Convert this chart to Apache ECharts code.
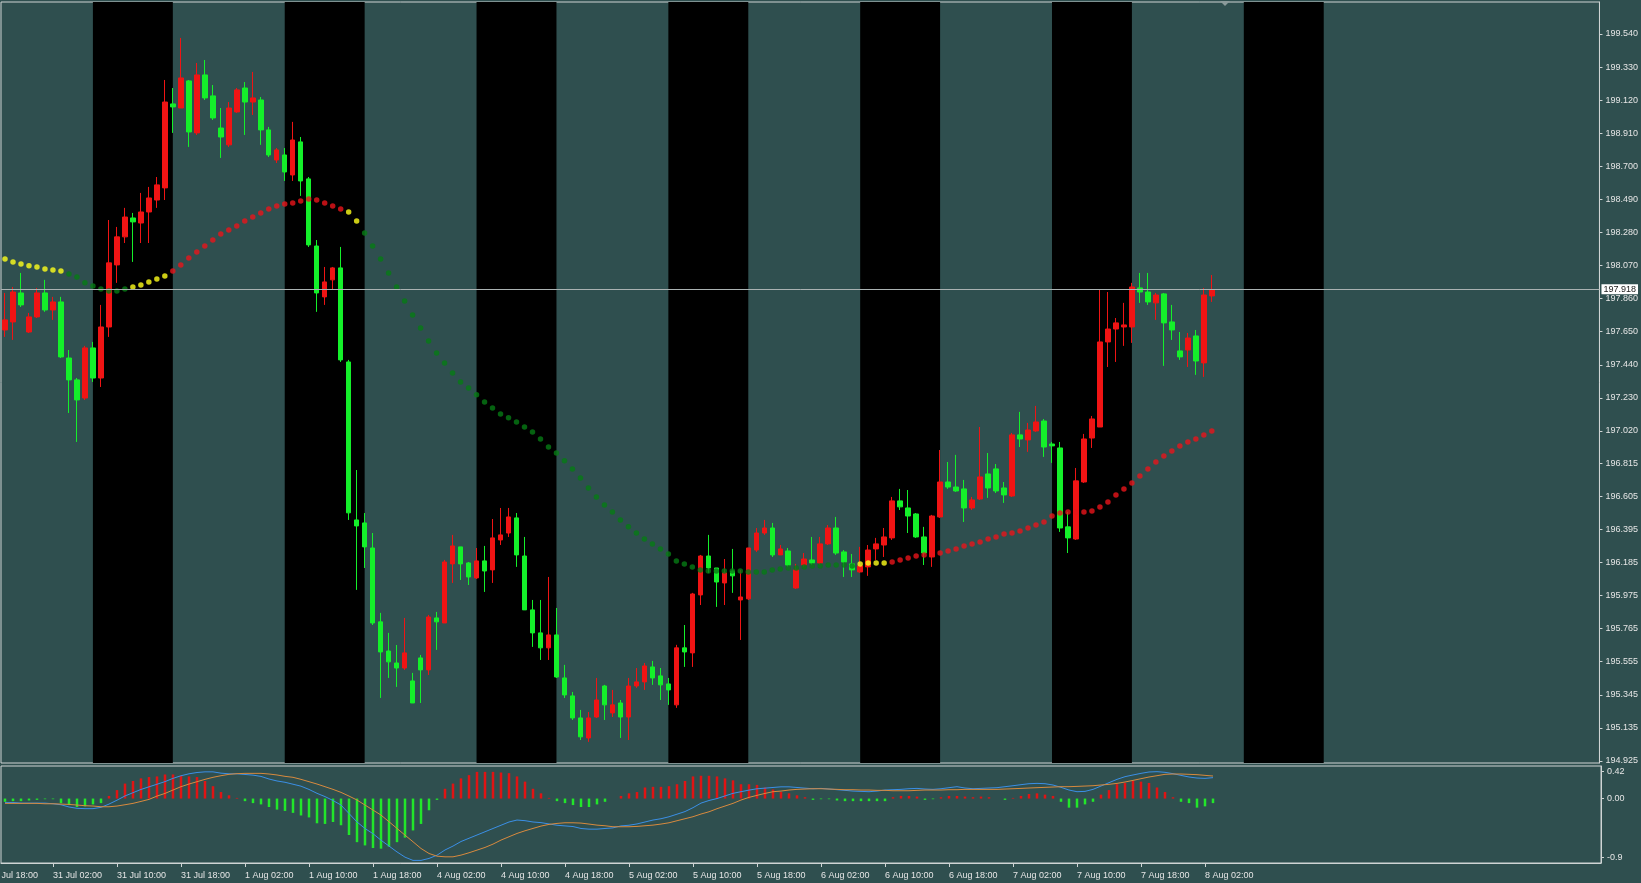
<!DOCTYPE html>
<html><head><meta charset="utf-8">
<script src="https://cdn.jsdelivr.net/npm/echarts@6/dist/echarts.min.js"></script>
<style>html,body{margin:0;padding:0;background:#2f4f4f;overflow:hidden}#c{width:1641px;height:883px}</style>
</head><body><div id="c"></div>
<script>
// ---- categories (hourly bars, weekend skipped) ----
const tradingDays = ['30 Jul','31 Jul','1 Aug','4 Aug','5 Aug','6 Aug','7 Aug','8 Aug','11 Aug','12 Aug'];
const firstCandle = '30 Jul 20:00';
const hiddenLeftLabel = '30 Jul 18:00';   // label of the bar just left of the window
const categoryCount = 200;

// ---- candles (30 Jul 20:00 .. 8 Aug 03:00) ----
const opens = [197.661,197.712,197.896,197.648,197.744,197.896,197.788,197.839,197.483,197.344,197.229,197.547,197.356,197.680,198.074,198.252,198.372,198.340,198.410,198.486,198.563,199.096,199.070,199.242,198.912,199.280,199.147,198.943,198.836,199.045,199.197,199.108,199.121,198.931,198.740,198.772,198.645,198.855,198.620,198.194,197.871,197.979,198.055,197.458,196.455,196.436,196.277,195.808,195.623,195.547,195.515,195.433,195.579,195.503,195.833,195.801,196.176,196.284,196.182,196.087,196.195,196.138,196.328,196.372,196.468,196.226,195.884,195.738,195.643,195.725,195.452,195.338,195.198,195.071,195.204,195.401,195.230,195.293,195.204,195.401,195.427,195.522,195.465,195.414,195.281,195.643,195.611,195.979,196.226,196.150,196.055,196.131,195.947,195.954,196.264,196.372,196.404,196.233,196.258,196.023,196.169,196.201,196.182,196.303,196.404,196.252,196.176,196.125,196.157,196.271,196.296,196.341,196.576,196.531,196.493,196.347,196.220,196.474,196.696,196.664,196.652,196.531,196.588,196.747,196.779,196.658,196.607,196.995,196.963,197.020,197.083,196.937,196.912,196.411,196.334,196.696,196.975,197.045,197.585,197.667,197.680,197.680,197.928,197.902,197.833,197.890,197.712,197.528,197.534,197.623,197.452,197.877];
const closes = [197.725,197.902,197.820,197.744,197.896,197.788,197.839,197.490,197.344,197.217,197.547,197.356,197.680,198.087,198.252,198.378,198.347,198.410,198.499,198.582,199.108,199.077,199.261,198.918,199.280,199.134,199.007,198.886,199.070,199.185,199.108,199.134,198.931,198.772,198.804,198.664,198.867,198.607,198.201,197.896,197.966,198.055,197.471,196.500,196.417,196.284,195.801,195.617,195.554,195.515,195.611,195.293,195.503,195.839,195.808,196.188,196.290,196.176,196.093,196.195,196.131,196.341,196.360,196.474,196.233,195.884,195.738,195.643,195.725,195.458,195.344,195.198,195.078,195.198,195.312,195.281,195.281,195.204,195.401,195.427,195.528,195.452,195.408,195.376,195.643,195.617,195.985,196.226,196.150,196.061,196.119,196.100,195.966,196.277,196.372,196.404,196.233,196.271,196.169,196.138,196.207,196.182,196.303,196.404,196.245,196.188,196.138,196.163,196.264,196.303,196.347,196.576,196.538,196.480,196.347,196.245,196.480,196.696,196.664,196.639,196.531,196.582,196.728,196.658,196.639,196.614,196.995,196.969,197.026,197.077,196.918,196.925,196.404,196.341,196.703,196.969,197.096,197.585,197.667,197.706,197.693,197.934,197.902,197.839,197.883,197.706,197.661,197.490,197.610,197.464,197.883,197.918];
const lows = [197.617,197.598,197.807,197.642,197.737,197.776,197.725,197.483,197.134,196.950,197.217,197.331,197.299,197.617,197.960,198.213,198.093,198.213,198.213,198.436,198.486,198.912,199.070,198.823,198.899,199.121,198.994,198.753,198.823,199.039,198.899,199.026,198.836,198.759,198.721,198.607,198.607,198.512,198.188,197.776,197.820,197.915,197.458,196.455,196.011,196.150,195.788,195.325,195.452,195.395,195.503,195.293,195.293,195.471,195.630,195.801,196.055,196.074,196.042,196.080,195.998,196.055,196.296,196.347,196.157,195.884,195.649,195.566,195.566,195.452,195.325,195.185,195.058,195.046,195.198,195.185,195.204,195.071,195.058,195.389,195.376,195.408,195.312,195.281,195.262,195.522,195.522,195.915,196.119,195.903,195.915,195.992,195.693,195.947,196.252,196.360,196.220,196.233,196.157,196.017,196.157,196.169,196.169,196.296,196.233,196.093,196.093,196.119,196.100,196.201,196.220,196.328,196.518,196.372,196.341,196.169,196.157,196.468,196.652,196.633,196.442,196.518,196.582,196.595,196.626,196.563,196.601,196.918,196.887,197.014,196.855,196.817,196.379,196.245,196.328,196.690,196.912,197.045,197.426,197.458,197.560,197.579,197.833,197.820,197.725,197.433,197.598,197.471,197.426,197.376,197.363,197.839];
const highs = [197.896,197.934,198.023,197.769,197.928,197.979,197.871,197.871,197.534,197.356,197.560,197.585,197.820,198.359,198.315,198.436,198.404,198.531,198.569,198.632,199.248,199.197,199.515,199.248,199.356,199.375,199.216,199.070,199.108,199.197,199.235,199.299,199.140,198.950,198.816,198.816,198.982,198.886,198.632,198.232,198.061,198.061,198.188,197.471,196.772,196.499,196.372,195.865,195.738,195.661,195.833,195.484,195.598,195.852,195.871,196.201,196.360,196.284,196.188,196.277,196.290,196.461,196.531,196.531,196.499,196.347,195.947,195.947,196.093,195.896,195.535,195.363,195.249,195.236,195.452,195.408,195.376,195.312,195.452,195.515,195.547,195.560,195.515,195.452,195.662,195.788,195.992,196.233,196.360,196.150,196.207,196.271,196.138,196.277,196.404,196.455,196.436,196.296,196.277,196.176,196.245,196.347,196.347,196.423,196.474,196.264,196.239,196.284,196.296,196.341,196.404,196.601,196.652,196.645,196.499,196.411,196.487,196.899,196.823,196.868,196.709,196.601,197.045,196.880,196.810,196.696,197.007,197.141,197.071,197.179,197.096,196.950,196.950,196.506,196.785,197.001,197.115,197.915,197.902,197.737,197.833,197.960,198.023,198.023,197.896,197.896,197.820,197.648,197.642,197.661,197.928,198.010];

// ---- dotted moving average and its trend state ----
const maValues = [198.112,198.093,198.080,198.068,198.061,198.048,198.042,198.036,198.017,197.998,197.960,197.940,197.921,197.909,197.909,197.921,197.934,197.947,197.966,197.985,198.004,198.036,198.074,198.118,198.156,198.194,198.232,198.271,198.296,198.321,198.353,198.378,198.404,198.429,198.448,198.461,198.467,198.480,198.493,198.486,198.467,198.448,198.429,198.410,198.353,198.277,198.194,198.112,198.023,197.934,197.845,197.756,197.673,197.591,197.515,197.452,197.388,197.331,197.293,197.249,197.204,197.166,197.128,197.103,197.077,197.045,197.014,196.969,196.918,196.880,196.830,196.779,196.722,196.658,196.601,196.550,196.506,196.455,196.411,196.372,196.334,196.303,196.271,196.239,196.195,196.176,196.157,196.138,196.131,196.131,196.131,196.131,196.131,196.125,196.125,196.125,196.138,196.144,196.150,196.150,196.157,196.163,196.163,196.169,196.169,196.169,196.163,196.176,196.182,196.182,196.182,196.188,196.201,196.214,196.226,196.233,196.239,196.245,196.258,196.271,196.290,196.303,196.315,196.334,196.347,196.366,196.372,196.385,196.404,196.423,196.442,196.480,196.499,196.506,196.506,196.506,196.512,196.537,196.569,196.614,196.652,196.690,196.734,196.779,196.823,196.861,196.893,196.925,196.950,196.969,196.995,197.020];
const maTrendRuns = [[8,'flat'],[8,'down'],[5,'flat'],[22,'up'],[2,'flat'],[62,'down'],[4,'flat'],[41,'up']];

// ---- MACD panel ----
const macdHist = [-0.05,-0.04,-0.04,-0.03,-0.02,-0.01,-0.01,-0.07,-0.10,-0.13,-0.12,-0.09,-0.07,0.04,0.13,0.23,0.27,0.31,0.33,0.34,0.37,0.37,0.35,0.34,0.33,0.27,0.19,0.10,0.05,0.01,-0.04,-0.07,-0.09,-0.13,-0.17,-0.19,-0.22,-0.26,-0.29,-0.38,-0.39,-0.36,-0.41,-0.56,-0.67,-0.72,-0.76,-0.77,-0.74,-0.67,-0.60,-0.49,-0.39,-0.18,-0.02,0.15,0.23,0.31,0.36,0.41,0.41,0.41,0.40,0.39,0.34,0.26,0.15,0.08,0.01,-0.04,-0.07,-0.10,-0.13,-0.13,-0.09,-0.05,0.00,0.04,0.08,0.10,0.17,0.18,0.18,0.19,0.22,0.27,0.34,0.35,0.35,0.34,0.31,0.28,0.22,0.22,0.21,0.17,0.14,0.10,0.08,0.05,0.02,-0.02,-0.01,-0.01,-0.03,-0.04,-0.04,-0.04,-0.04,-0.04,-0.04,0.02,0.04,0.04,0.03,-0.02,-0.01,0.02,0.04,0.04,0.03,0.02,0.03,0.02,0.00,-0.02,0.01,0.04,0.07,0.08,0.06,0.04,-0.05,-0.14,-0.14,-0.09,-0.05,0.06,0.13,0.22,0.24,0.27,0.26,0.24,0.17,0.10,0.02,-0.05,-0.07,-0.14,-0.12,-0.07];
const macdMain = [-0.06,-0.06,-0.07,-0.07,-0.07,-0.07,-0.08,-0.095,-0.13,-0.15,-0.155,-0.155,-0.135,-0.085,-0.025,0.04,0.09,0.14,0.18,0.22,0.26,0.31,0.35,0.38,0.40,0.41,0.41,0.39,0.38,0.38,0.37,0.36,0.34,0.30,0.27,0.25,0.22,0.19,0.14,0.08,0.03,-0.03,-0.10,-0.23,-0.36,-0.46,-0.54,-0.64,-0.73,-0.82,-0.90,-0.95,-0.95,-0.92,-0.87,-0.79,-0.73,-0.66,-0.61,-0.56,-0.51,-0.46,-0.41,-0.36,-0.33,-0.34,-0.36,-0.37,-0.39,-0.41,-0.42,-0.43,-0.46,-0.47,-0.47,-0.46,-0.45,-0.42,-0.41,-0.39,-0.36,-0.33,-0.31,-0.28,-0.24,-0.20,-0.14,-0.07,-0.03,0.00,0.04,0.08,0.105,0.13,0.15,0.16,0.17,0.18,0.18,0.17,0.16,0.15,0.156,0.146,0.136,0.126,0.115,0.110,0.105,0.115,0.131,0.136,0.141,0.151,0.156,0.146,0.141,0.151,0.167,0.182,0.162,0.151,0.156,0.162,0.167,0.182,0.197,0.213,0.228,0.233,0.228,0.208,0.172,0.131,0.105,0.110,0.141,0.192,0.244,0.295,0.336,0.362,0.387,0.408,0.413,0.403,0.382,0.356,0.331,0.315,0.310,0.321];
const macdSignal = [-0.074,-0.074,-0.074,-0.074,-0.074,-0.08,-0.08,-0.085,-0.09,-0.10,-0.11,-0.115,-0.126,-0.126,-0.115,-0.095,-0.074,-0.044,-0.013,0.038,0.079,0.131,0.182,0.223,0.259,0.295,0.326,0.351,0.372,0.382,0.387,0.387,0.387,0.377,0.362,0.341,0.326,0.295,0.259,0.223,0.182,0.141,0.095,0.038,-0.023,-0.10,-0.177,-0.254,-0.356,-0.459,-0.562,-0.664,-0.767,-0.844,-0.885,-0.895,-0.895,-0.869,-0.833,-0.792,-0.751,-0.70,-0.638,-0.587,-0.536,-0.495,-0.459,-0.423,-0.397,-0.382,-0.372,-0.372,-0.377,-0.392,-0.408,-0.418,-0.433,-0.433,-0.433,-0.428,-0.418,-0.408,-0.392,-0.372,-0.341,-0.31,-0.279,-0.238,-0.203,-0.156,-0.115,-0.074,-0.023,0.018,0.049,0.079,0.105,0.115,0.131,0.141,0.146,0.151,0.151,0.146,0.141,0.136,0.136,0.131,0.131,0.126,0.126,0.12,0.12,0.12,0.126,0.131,0.131,0.131,0.136,0.136,0.141,0.141,0.141,0.141,0.141,0.146,0.151,0.156,0.162,0.167,0.172,0.177,0.182,0.182,0.187,0.192,0.197,0.208,0.218,0.233,0.254,0.279,0.305,0.331,0.351,0.372,0.377,0.377,0.372,0.367,0.356,0.346];

// ---- axis ticks / reference values ----
const priceTicks = [199.540,199.330,199.120,198.910,198.700,198.490,198.280,198.070,197.860,197.650,197.440,197.230,197.020,196.815,196.605,196.395,196.185,195.975,195.765,195.555,195.345,195.135,194.925];
const macdTicks = [0.42, 0, -0.9];
const macdTickLabels = ['0.42', '0.00', '-0.9'];
const bidPrice = 197.918;
const sessions = [['31 Jul 07:00','31 Jul 17:00'],['1 Aug 07:00','1 Aug 17:00'],['4 Aug 07:00','4 Aug 17:00'],['5 Aug 07:00','5 Aug 17:00'],['6 Aug 07:00','6 Aug 17:00'],['7 Aug 07:00','7 Aug 17:00'],['8 Aug 07:00','8 Aug 17:00']];

// ---- build ----
const allTimes = [];
tradingDays.forEach(d => { for (let h = 0; h < 24; h++) allTimes.push(d + ' ' + String(h).padStart(2, '0') + ':00'); });
const start = allTimes.indexOf(firstCandle);
const times = allTimes.slice(start, start + categoryCount);
const labelPhase = times.indexOf('31 Jul 02:00') % 8;
const lastReal = opens.length - 1;
const pad = arr => times.map((t, k) => (k < arr.length ? arr[k] : '-'));

const candleData = times.map((t, k) => (k < opens.length ? [opens[k], closes[k], lows[k], highs[k]] : ['-', '-', '-', '-']));
const trend = [];
maTrendRuns.forEach(([n, s]) => { for (let j = 0; j < n; j++) trend.push(s); });
const trendColor = { flat: '#ffff1a', down: '#067a14', up: '#e8141a' };

const RED = '#f01414', LIME = '#14f02a';
const AXIS = '#cfd4d4', TXT = '#e6e6e6', FONT = 'Liberation Sans';
const showIdx = (idx) => idx % 8 === labelPhase && idx <= lastReal;

const GRID_LEFT = 1, GRID_W = 1600;
const catW = GRID_W / categoryCount;
const hiddenIdx = allTimes.indexOf(hiddenLeftLabel) - start;   // -2
const hiddenX = GRID_LEFT + catW * (hiddenIdx + 0.5);

const chart = echarts.init(document.getElementById('c'), null, { renderer: 'canvas' });
chart.setOption({
  animation: false,
  backgroundColor: '#2f4f4f',
  grid: [
    { left: GRID_LEFT, width: GRID_W, top: 2, height: 761, show: true, borderColor: AXIS, borderWidth: 1, backgroundColor: 'transparent' },
    { left: GRID_LEFT, width: GRID_W, top: 766, height: 97, show: true, borderColor: AXIS, borderWidth: 1, backgroundColor: 'transparent' }
  ],
  xAxis: [
    { type: 'category', gridIndex: 0, data: times, boundaryGap: true, show: false },
    { type: 'category', gridIndex: 1, data: times, boundaryGap: true,
      axisLine: { show: true, onZero: false, lineStyle: { color: AXIS, width: 1 } },
      axisTick: { show: true, alignWithLabel: true, interval: showIdx, length: 4, lineStyle: { color: AXIS } },
      axisLabel: { interval: showIdx, align: 'left', color: TXT, fontSize: 9, fontFamily: FONT, margin: 8 },
      splitLine: { show: false } }
  ],
  yAxis: [
    { type: 'value', gridIndex: 0, position: 'right', min: 194.912, max: 199.743,
      axisLine: { show: true, lineStyle: { color: AXIS } },
      axisTick: { show: true, length: 3, customValues: priceTicks, lineStyle: { color: AXIS } },
      axisLabel: { customValues: priceTicks, formatter: v => v.toFixed(3), color: TXT, fontSize: 9, fontFamily: FONT, margin: 6 },
      splitLine: { show: false } },
    { type: 'value', gridIndex: 1, position: 'right', min: -0.99, max: 0.5,
      axisLine: { show: true, lineStyle: { color: AXIS } },
      axisTick: { show: true, length: 3, customValues: macdTicks, lineStyle: { color: AXIS } },
      axisLabel: { customValues: macdTicks, formatter: v => macdTickLabels[macdTicks.indexOf(v)] ?? String(v), color: TXT, fontSize: 9, fontFamily: FONT, margin: 6 },
      splitLine: { show: false } }
  ],
  series: [
    { type: 'custom', name: 'sessions', xAxisIndex: 0, yAxisIndex: 0, z: 0, silent: true, clip: true,
      data: sessions.map(s => [times.indexOf(s[0]), times.indexOf(s[1])]),
      encode: { x: [0, 1] },
      renderItem: (params, api) => {
        const cs = params.coordSys;
        const x0 = api.coord([api.value(0), 197])[0];
        const x1 = api.coord([api.value(1), 197])[0];
        return { type: 'rect', shape: { x: x0, y: cs.y, width: x1 - x0, height: cs.height }, style: { fill: '#000' } };
      } },
    { type: 'candlestick', name: 'price', xAxisIndex: 0, yAxisIndex: 0, z: 3, barWidth: 5,
      data: candleData,
      itemStyle: { color: RED, color0: LIME, borderColor: RED, borderColor0: LIME, borderWidth: 1 },
      emphasis: { disabled: true },
      markLine: { silent: true, symbol: ['none', 'none'], animation: false,
        lineStyle: { color: '#aab2b2', width: 1, type: 'solid' },
        label: { show: true, position: 'end', formatter: bidPrice.toFixed(3), backgroundColor: '#ffffff', color: '#1a1a1a', fontSize: 9, fontFamily: FONT, padding: [1, 2, 0, 2], distance: 2 },
        emphasis: { disabled: true },
        data: [{ yAxis: bidPrice }] } },
    { type: 'scatter', name: 'ma', xAxisIndex: 0, yAxisIndex: 0, z: 4, symbolSize: 5.5,
      data: pad(maValues),
      itemStyle: { color: p => trendColor[trend[p.dataIndex]] || '#fff' },
      emphasis: { disabled: true } },
    { type: 'bar', name: 'hist', xAxisIndex: 1, yAxisIndex: 1, barWidth: 2.5, z: 2,
      data: pad(macdHist),
      itemStyle: { color: p => (p.value >= 0 ? '#e01414' : '#22e62a') },
      emphasis: { disabled: true } },
    { type: 'line', name: 'macd', xAxisIndex: 1, yAxisIndex: 1, z: 3, showSymbol: false, symbol: 'none',
      data: pad(macdMain), lineStyle: { color: '#3b8fe6', width: 1 }, emphasis: { disabled: true } },
    { type: 'line', name: 'signal', xAxisIndex: 1, yAxisIndex: 1, z: 3, showSymbol: false, symbol: 'none',
      data: pad(macdSignal), lineStyle: { color: '#d88a3e', width: 1 }, emphasis: { disabled: true } }
  ],
  graphic: [
    { type: 'text', silent: true, x: hiddenX, y: 763 + 100 + 8, style: { text: hiddenLeftLabel, fill: TXT, fontSize: 9, fontFamily: FONT, align: 'left', verticalAlign: 'top' } },
    { type: 'polygon', silent: true, shape: { points: [[1220, 1], [1230, 1], [1225, 6]] }, style: { fill: '#8a9a9a' }, z: 10 }
  ]
});
</script>
</body></html>
